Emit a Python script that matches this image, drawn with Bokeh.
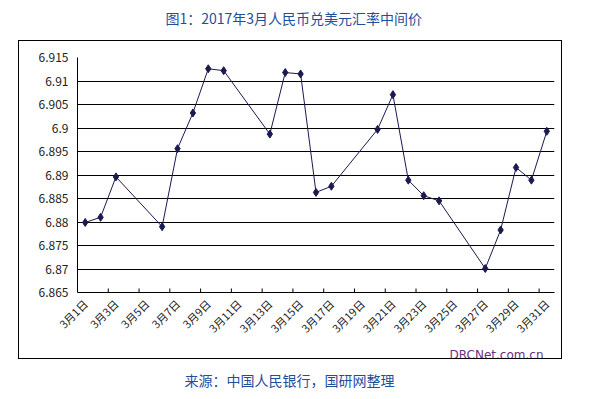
import math
from bokeh.plotting import figure
from bokeh.models import (Range1d, FixedTicker, Title, ColumnDataSource, InlineStyleSheet)
from bokeh.embed import file_html
from bokeh.resources import INLINE

# ---- data ----
days = [1, 2, 3, 6, 7, 8, 9, 10, 13, 14, 15, 16, 17, 20, 21, 22, 23, 24, 27, 28, 29, 30, 31]
rates = [6.8799, 6.8810, 6.8896, 6.8790, 6.8956, 6.9032, 6.9126, 6.9122, 6.8987,
         6.9118, 6.9115, 6.8863, 6.8876, 6.8997, 6.9071, 6.8889, 6.8856, 6.8845,
         6.8701, 6.8783, 6.8916, 6.8889, 6.8993]

x_tick_pos = [1, 3, 5, 7, 9, 11, 13, 15, 17, 19, 21, 23, 25, 27, 29, 31]
x_tick_labels = ["3月1日", "3月3日", "3月5日", "3月7日", "3月9日", "3月11日", "3月13日",
                 "3月15日", "3月17日", "3月19日", "3月21日", "3月23日", "3月25日",
                 "3月27日", "3月29日", "3月31日"]
x_mark_pos = [2.5, 4.5, 6.5, 8.5, 10.5, 12.5, 14.5, 16.5, 18.5, 20.5, 22.5, 24.5,
              26.5, 28.5, 30.5]
y_ticks = [6.865, 6.87, 6.875, 6.88, 6.885, 6.89, 6.895, 6.9, 6.905, 6.91, 6.915]
y_tick_labels = ["6.865", "6.87", "6.875", "6.88", "6.885", "6.89", "6.895", "6.9",
                 "6.905", "6.91", "6.915"]

title_text = "图1：2017年3月人民币兑美元汇率中间价"
source_text = "来源：中国人民银行，国研网整理"
brand_text = "DRCNet.com.cn"

FONT = "Noto Sans CJK SC"
BLUE = "#1f4e9c"

p = figure(width=607, height=399, output_backend="svg", toolbar_location=None,
           x_range=Range1d(0.5, 31.5), y_range=Range1d(6.865, 6.915),
           min_border_left=77, min_border_right=53, min_border_top=57,
           min_border_bottom=107)
p.outline_line_color = None
p.background_fill_color = "white"
p.border_fill_color = "white"

# outer frame box drawn over the canvas with CSS (no data involved)
p.stylesheets = [InlineStyleSheet(css="""
:host::after {
  content: "";
  position: absolute;
  left: 18px; top: 40px; width: 542px; height: 317px;
  border: 1.5px solid black;
  pointer-events: none;
}
""")]

# grid
p.xgrid.grid_line_color = None
p.ygrid.ticker = FixedTicker(ticks=y_ticks)
p.ygrid.grid_line_color = "black"
p.ygrid.grid_line_width = 1

# y axis
p.yaxis.ticker = FixedTicker(ticks=y_ticks)
p.yaxis.major_label_overrides = {t: l for t, l in zip(y_ticks, y_tick_labels)}
p.yaxis.major_tick_in = 0
p.yaxis.major_tick_out = 0
p.yaxis.minor_tick_line_color = None
p.yaxis.axis_line_color = "black"
p.yaxis.major_label_text_font = FONT
p.yaxis.major_label_text_font_size = "12px"
p.yaxis.major_label_text_color = "#222222"
p.yaxis.major_label_standoff = 9

# x axis
p.xaxis.ticker = FixedTicker(ticks=x_tick_pos)
p.xaxis.major_label_overrides = {t: l for t, l in zip(x_tick_pos, x_tick_labels)}
p.xaxis.major_tick_in = 0
p.xaxis.major_tick_out = 0
p.xaxis.minor_tick_line_color = None
p.xaxis.axis_line_color = "black"
p.xaxis.major_label_orientation = math.pi / 4
p.xaxis.major_label_text_font = FONT
p.xaxis.major_label_text_font_size = "11px"
p.xaxis.major_label_text_color = "#222222"
p.xaxis.major_label_standoff = 9

# tick marks between category groups (inside)
tick_h = (6.915 - 6.865) / 235 * 4
p.segment(x0=x_mark_pos, x1=x_mark_pos, y0=[6.865] * len(x_mark_pos),
          y1=[6.865 + tick_h] * len(x_mark_pos), line_color="black", line_width=1)

# series
src = ColumnDataSource(dict(x=days, y=rates))
p.line("x", "y", source=src, line_color="#1a1a50", line_width=1)
p.scatter("x", "y", source=src, marker="diamond", size=8,
          fill_color="#1a1a50", line_color="#1a1a50")

# spacer between frame and the title (keeps title high without moving the frame)
p.add_layout(Title(text=" ", text_font=FONT, text_font_size="12px",
                   text_color="white", standoff=9), "above")
p.add_layout(Title(text=title_text, text_font=FONT, text_font_size="14px",
                   text_color=BLUE, text_font_style="normal", align="left",
                   offset=88, standoff=4), "above")
p.add_layout(Title(text=brand_text, text_font="DejaVu Sans", text_font_size="12px",
                   text_color="#6b2f7f", text_font_style="normal", align="right",
                   offset=11, standoff=2), "below")
p.add_layout(Title(text=source_text, text_font=FONT, text_font_size="14px",
                   text_color=BLUE, text_font_style="normal", align="left",
                   offset=107, standoff=10), "below")

open("out.html", "w").write(file_html(p, INLINE))
